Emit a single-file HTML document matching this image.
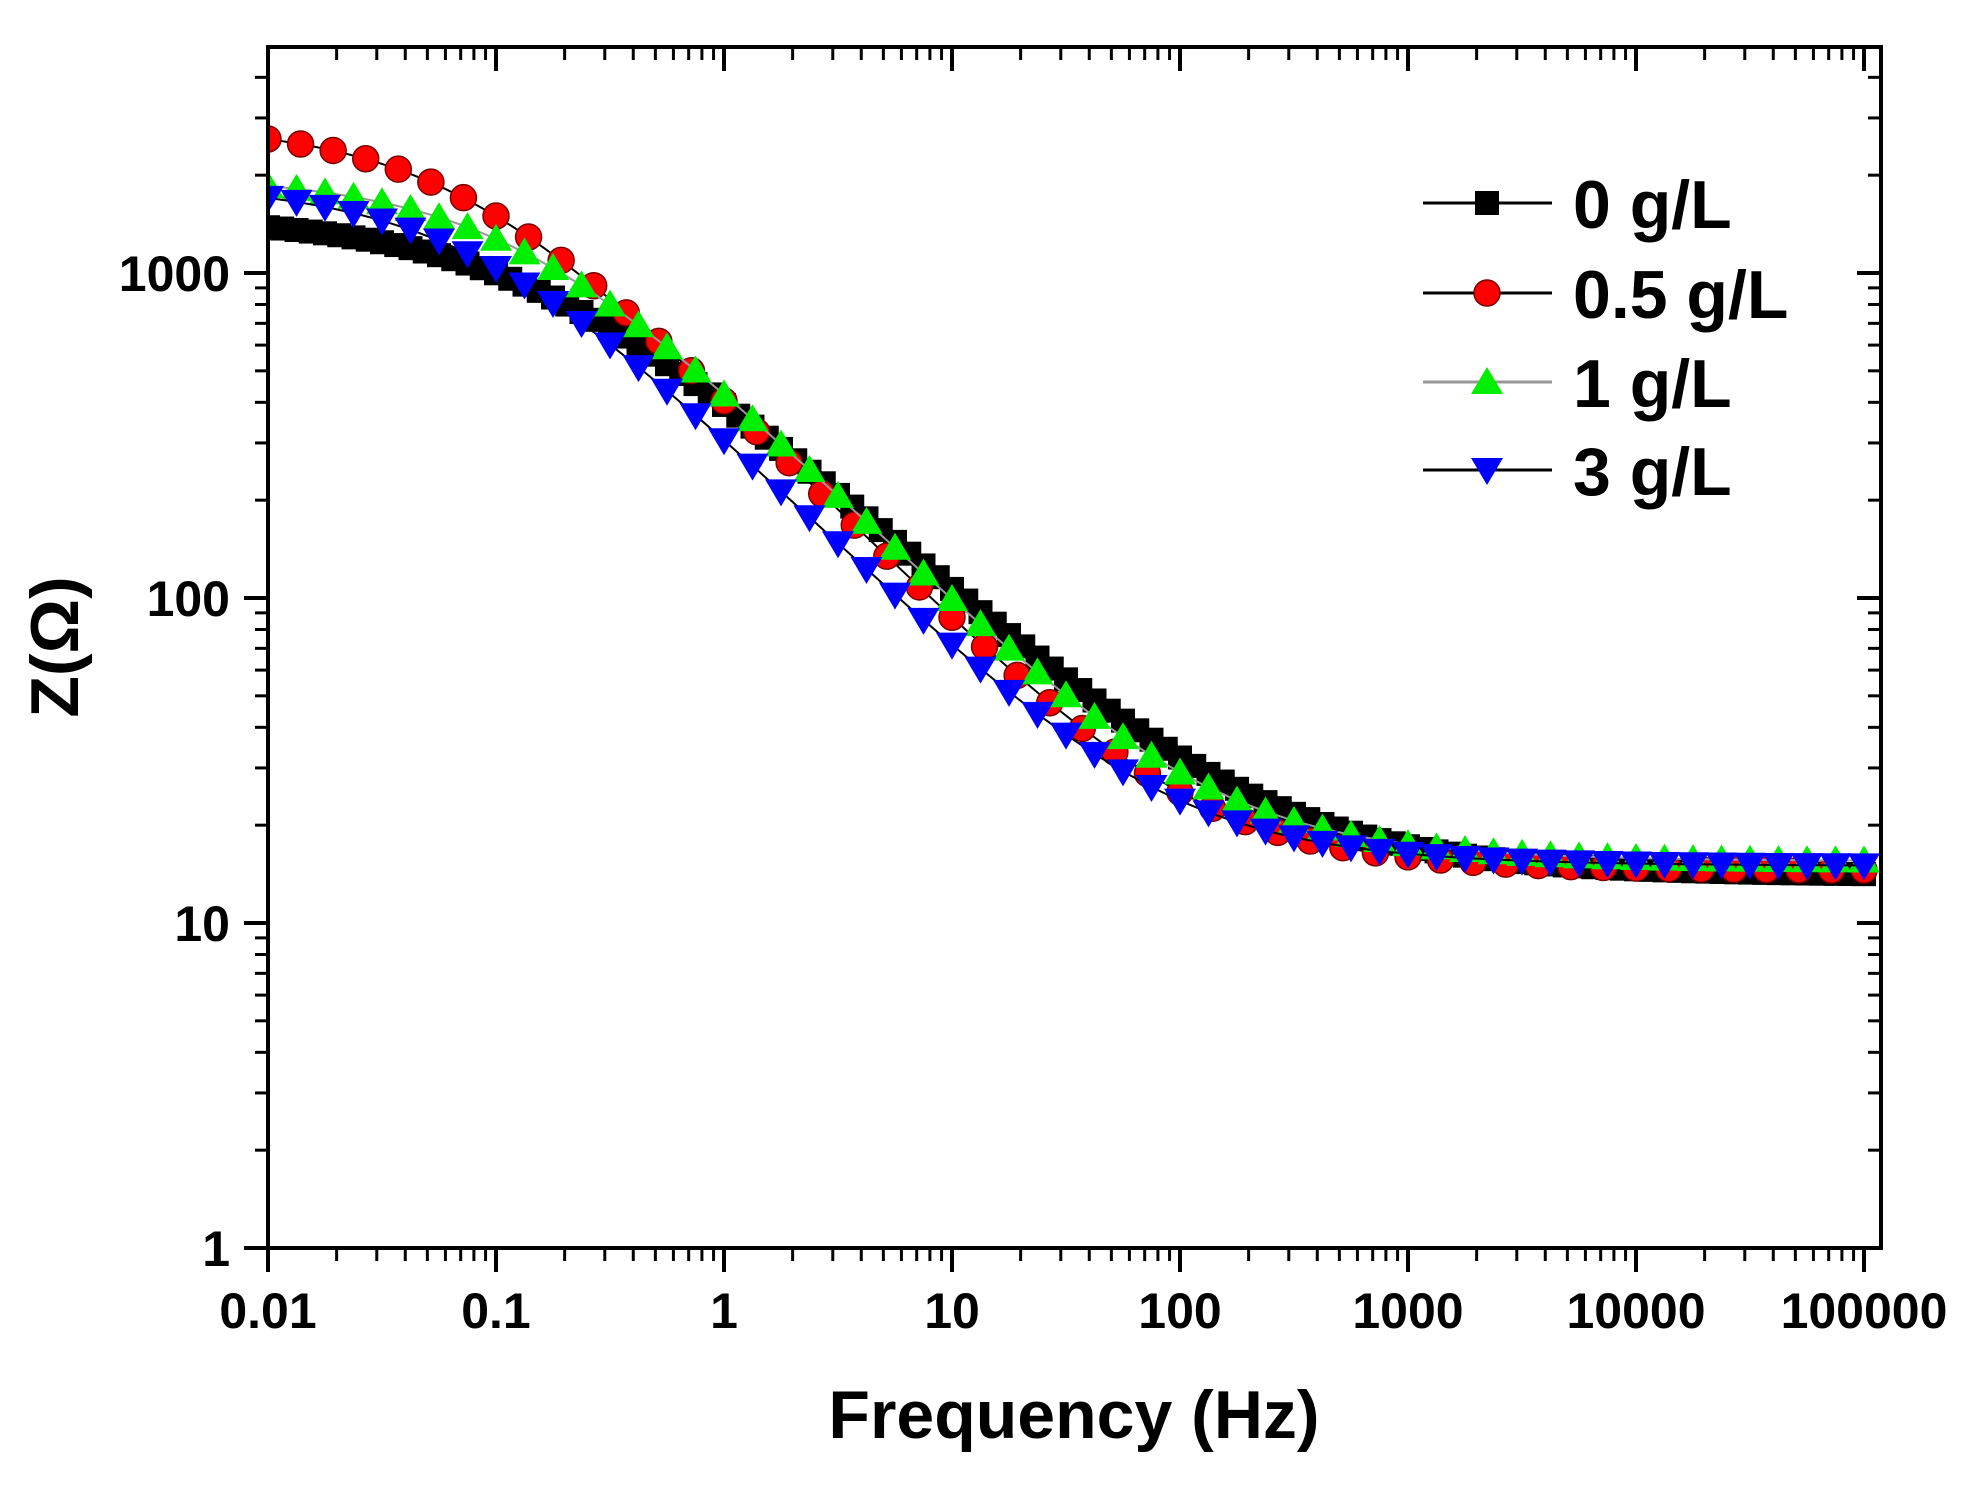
<!DOCTYPE html>
<html><head><meta charset="utf-8"><style>
html,body{margin:0;padding:0;background:#fff;}
svg{display:block;}
text{font-family:"Liberation Sans",Arial,sans-serif;font-weight:bold;fill:#000;}
</style></head><body>
<svg id="s" width="1970" height="1493" viewBox="0 0 1970 1493" xmlns="http://www.w3.org/2000/svg">
<g id="data"></g>
<g id="axes" stroke="#000" stroke-width="4" fill="none"></g>
<g id="labels" font-size="50"></g>
<text x="1074" y="1438" font-size="68" text-anchor="middle">Frequency (Hz)</text>
<text transform="translate(78,647) rotate(-90)" font-size="68" text-anchor="middle">Z(Ω)</text>
<g id="legend"></g>
</svg>
<script>
const NS="http://www.w3.org/2000/svg";
const X0=268,DX=228,Y1=1248,DY=325,TOP=47,RIGHT=1881;
const xp=f=>X0+(Math.log10(f)+2)*DX, yp=z=>Y1-Math.log10(z)*DY;
function el(p,t,a){const e=document.createElementNS(NS,t);for(const k in a)e.setAttribute(k,a[k]);p.appendChild(e);return e;}
const ax=document.getElementById('axes'),lb=document.getElementById('labels');
el(ax,'rect',{x:X0,y:TOP,width:RIGHT-X0,height:Y1-TOP});
for(let d=-2;d<=5;d++){for(let m=1;m<10;m++){const f=m*Math.pow(10,d);const x=xp(f);if(x>RIGHT)break;
 const L=m==1?24:13;el(ax,'line',{x1:x,y1:Y1,x2:x,y2:Y1+L,'stroke-width':m==1?4:3});
 el(ax,'line',{x1:x,y1:TOP,x2:x,y2:TOP+L,'stroke-width':m==1?4:3});}
 const t=el(lb,'text',{x:xp(Math.pow(10,d)),y:1328,'text-anchor':'middle'});t.textContent=["0.01","0.1","1","10","100","1000","10000","100000"][d+2];}
for(let d=0;d<=3;d++){for(let m=1;m<10;m++){const z=m*Math.pow(10,d);const y=yp(z);if(y<TOP)break;
 const L=m==1?24:13;el(ax,'line',{x1:X0,y1:y,x2:X0-L,y2:y,'stroke-width':m==1?4:3});
 el(ax,'line',{x1:RIGHT,y1:y,x2:RIGHT-L,y2:y,'stroke-width':m==1?4:3});}
 const t=el(lb,'text',{x:230,y:yp(Math.pow(10,d))+18,'text-anchor':'end'});t.textContent=["1","10","100","1000"][d];}
function Z(f,Rs,Rp,tau,n){const w=2*Math.PI*f*tau;const m=Math.pow(w,n),a=n*Math.PI/2;
 const re=1+m*Math.cos(a),im=m*Math.sin(a);const d=re*re+im*im;
 const zr=Rs+Rp*re/d,zi=-Rp*im/d;return Math.hypot(zr,zi);}
const series=[
 {p:[14,1500,1.0,0.65],c:'#000',m:'sq',lc:'#000',ppd:16},
 {p:[14.5,2900,2.3,0.72],c:'#ff0000',m:'ci',lc:'#000',ppd:7},
 {p:[15.5,2000,1.28,0.7],c:'#00ee00',m:'tu',lc:'#999',ppd:8},
 {p:[15,1900,2.0,0.7],c:'#0000ff',m:'td',lc:'#000',ppd:8}];
const dg=document.getElementById('data');
function marker(g,m,x,y,c){
 if(m=='sq')el(g,'rect',{x:x-12,y:y-12,width:24,height:24,fill:c});
 else if(m=='ci')el(g,'circle',{cx:x,cy:y,r:13,fill:c,stroke:'#700','stroke-width':1.5});
 else if(m=='tu')el(g,'polygon',{points:`${x-16},${y+12} ${x+16},${y+12} ${x},${y-15}`,fill:c});
 else el(g,'polygon',{points:`${x-16},${y-12} ${x+16},${y-12} ${x},${y+15}`,fill:c});}
const clip=el(document.getElementById('s'),'clipPath',{id:'cp'});el(clip,'rect',{x:X0,y:TOP,width:RIGHT-X0,height:Y1-TOP});
dg.setAttribute('clip-path','url(#cp)');
series.forEach((s,i)=>{const ppd=s.ppd;const pts=[];
 for(let k=0;k<=7*ppd;k++){const f=Math.pow(10,-2+k/ppd);pts.push([xp(f),yp(Z(f,...s.p))]);}
 el(dg,'polyline',{points:pts.map(p=>p.join(',')).join(' '),fill:'none',stroke:s.lc,'stroke-width':2});
 pts.forEach(p=>marker(dg,s.m,p[0],p[1],s.c));});
const lg=document.getElementById('legend');
const names=["0 g/L","0.5 g/L","1 g/L","3 g/L"],ly=[203,293,382,470];
series.forEach((s,i)=>{el(lg,'line',{x1:1423,y1:ly[i],x2:1552,y2:ly[i],stroke:s.lc,'stroke-width':3});
 marker(lg,s.m,1487,ly[i],s.c);const t=el(lg,'text',{x:1573,y:ly[i]+25,'font-size':68});t.textContent=names[i];});
</script>
</body></html>
